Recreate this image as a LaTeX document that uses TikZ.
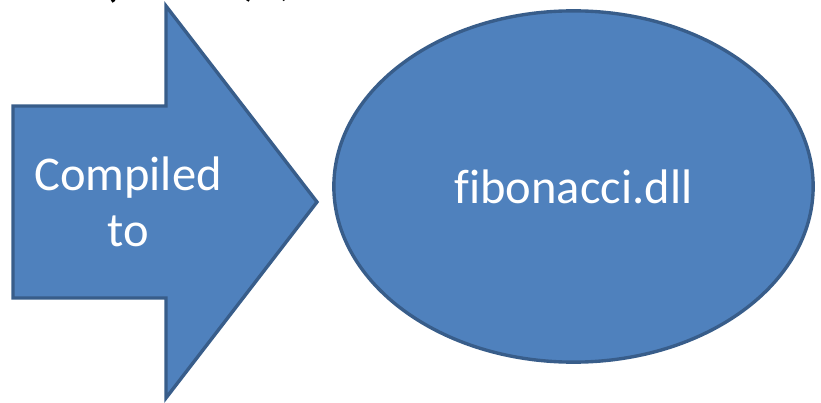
\documentclass[tikz,border=0pt]{standalone}
\usepackage{fontspec}
\setmainfont{Carlito}[Ligatures=NoCommon]
\usetikzlibrary{shapes.geometric}
\definecolor{ShapeBlue}{HTML}{4F81BD}
\definecolor{ShapeEdge}{HTML}{385D8A}

\begin{document}
\begin{tikzpicture}[x=0.025cm,y=0.025cm,
    blueshape/.style={fill=ShapeBlue,draw=ShapeEdge,line width=2.4pt,line join=miter},
    shapetext/.style={text=white,font=\fontsize{34.5}{40}\selectfont,align=center,inner sep=0pt},
    cuttext/.style={text=black,font=\fontsize{40}{48}\selectfont,inner sep=0pt,anchor=south}]
    \clip (0,0) rectangle (821,402);
    \foreach \x/\y/\name in {13/104/A,166/104/B,166/4/C,317/200/D,166/396/E,166/296/F,13/296/G} {
     \coordinate (\name) at (\x,\y);
    }
    \draw[blueshape] (A) -- (B) -- (C) -- (D) -- (E) -- (F) -- (G) -- cycle;
    \node[shapetext] (compiled) at (128,200.5) {Compiled\\to};
    \node[blueshape,ellipse,minimum width=11.98cm,minimum height=8.78cm,inner sep=0pt] (dll) at (573.5,215.5) {};
    \node[shapetext] (dllname) at (dll.center) {fibonacci.dll};
    \node[cuttext] (lpar) at (110,398.5) {(};
    \node[cuttext] (rpar) at (252,399) {)};
    \node[cuttext] (semi) at (286,400) {;};
\end{tikzpicture}
\end{document}
